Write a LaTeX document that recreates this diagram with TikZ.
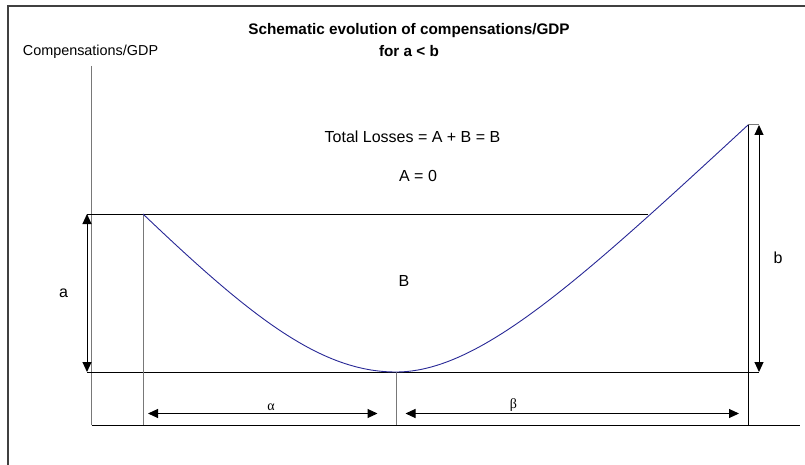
\documentclass[tikz,border=0pt]{standalone}
\usepackage{fontspec}
\setmainfont{Liberation Sans}
\newfontfamily\greekfont{Liberation Serif}
\usetikzlibrary{arrows.meta}
\definecolor{curveblue}{RGB}{40,40,150}
\definecolor{framegray}{RGB}{64,64,64}
\definecolor{guidegray}{RGB}{120,120,120}
\tikzset{
  lbl/.style={inner sep=0pt, font=\fontsize{16}{18}\selectfont},
  blackline/.style={draw=black, line width=1pt},
  guide/.style={draw=guidegray, line width=1pt},
  dimarrow/.style={draw=black, line width=1pt, {Triangle[length=10pt,width=9pt]}-{Triangle[length=10pt,width=9pt]}},
  curve/.style={draw=curveblue, line width=0.9pt}
}
\begin{document}
\begin{tikzpicture}[x=1pt,y=-1pt]
\useasboundingbox (0,0) rectangle (805,465);
% frame
\draw[framegray, line width=2pt] (8,465) -- (8,6) -- (805,6);
% titles
\node[inner sep=0pt, font=\bfseries\fontsize{15.3}{17}\selectfont] (title1) at (409,30.5) {Schematic evolution of compensations/GDP};
\node[inner sep=0pt, font=\bfseries\fontsize{15.3}{17}\selectfont] (title2) at (409,51.5) {for a < b};
\node[inner sep=0pt, font=\fontsize{14.4}{16}\selectfont] (ylabel) at (90.5,51.5) {Compensations/GDP};
% key coordinates
\coordinate (yaxtop) at (91.5,66);
\coordinate (origin) at (91.5,425);
\coordinate (xaxend) at (800,425);
\coordinate (start) at (143,214);
\coordinate (bottom) at (396,372);
\coordinate (peak) at (748,125);
\coordinate (cross) at (648,214);
\coordinate (upL) at (87,214);
\coordinate (lowL) at (87,372);
\coordinate (lowR) at (759,372);
% axes
\draw[guide] (yaxtop) -- (origin);
\draw[blackline] (origin) -- (xaxend);
% horizontal reference lines
\draw[blackline] (upL) -- (cross);
\draw[blackline] (lowL) -- (lowR);
% vertical guides
\draw[guide] (start) -- (start |- origin);
\draw[guide] (bottom) -- (bottom |- origin);
\draw[blackline] (peak) -- (peak |- origin);
\draw[guide] (peak) -- (peak -| lowR);
% curve
\draw[curve] (start) .. controls (250,316) and (320,372) .. (bottom)
  .. controls (480,372) and (580,280) .. (peak);
% dimension arrows
\draw[dimarrow] (upL) -- (lowL);
\draw[dimarrow] (peak -| lowR) -- (lowR);
\coordinate (al) at (148,413.5);
\coordinate (ar) at (377.5,413.5);
\coordinate (bl) at (405.5,413.5);
\coordinate (br) at (739,413.5);
\draw[dimarrow] (al) -- (ar);
\draw[dimarrow] (bl) -- (br);
% labels
\node[lbl] (la) at (63.5,293) {a};
\node[lbl] (lb) at (778,258) {b};
\node[lbl] (lB) at (404,281) {B};
\node[lbl] (total) at (412.5,137) {Total Losses = A + B = B};
\node[lbl] (azero) at (418,176) {A = 0};
\node[inner sep=0pt, font=\greekfont\fontsize{14}{16}\selectfont] (lalpha) at (271,407.5) {α};
\node[inner sep=0pt, font=\greekfont\fontsize{14}{16}\selectfont] (lbeta) at (513.5,405.5) {β};
\end{tikzpicture}
\end{document}
